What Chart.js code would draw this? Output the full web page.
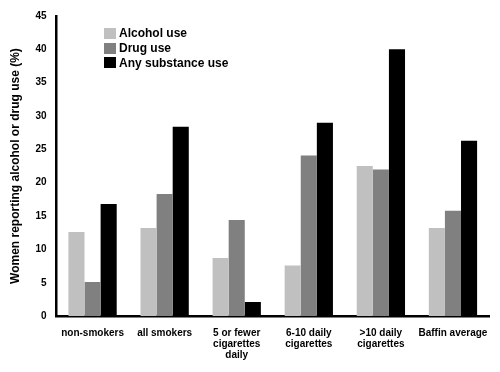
<!DOCTYPE html>
<html>
<head>
<meta charset="utf-8">
<script src="https://cdn.jsdelivr.net/npm/chart.js@4"></script>
<style>
    body { margin: 0; background: #fff; }
    #wrap { position: relative; width: 500px; height: 372px; }
    #legend { position: absolute; left: 104px; top: 26px; font: bold 12px "Liberation Sans", Arial, sans-serif; color: #000; }
    #legend div { display: flex; align-items: center; height: 14.8px; }
    #legend span { display: inline-block; width: 12px; height: 11px; margin-right: 3px; }
</style>
</head>
<body>
<div id="wrap">
    <canvas id="chartContainer" width="500" height="372"></canvas>
    <div id="legend"></div>
</div>
<script>
const categories = ['non-smokers', 'all smokers', ['5 or fewer', 'cigarettes', 'daily'], ['6-10 daily', 'cigarettes'], ['>10 daily', 'cigarettes'], 'Baffin average'];
const seriesNames = ['Alcohol use', 'Drug use', 'Any substance use'];
const alcoholUse = [12.6, 13.2, 8.7, 7.6, 22.5, 13.2];
const drugUse = [5.1, 18.3, 14.4, 24.1, 22.0, 15.8];
const anyUse = [16.8, 28.4, 2.1, 29.0, 40.0, 26.3];
const colors = ['#c0c0c0', '#808080', '#000000'];

function createChart() {
    var parrentNode = document.getElementById('chartContainer');
    var values = [alcoholUse, drugUse, anyUse];

    let datasets = [];
    for (let i in seriesNames) {
        datasets.push({
            label: seriesNames[i],
            data: values[i],
            backgroundColor: colors[i],
            borderWidth: 0,
            categoryPercentage: 0.67,
            barPercentage: 1.0
        });
    }

    // simple html legend, stacked like in the original figure
    var legend = document.getElementById('legend');
    for (let i in seriesNames) {
        var row = document.createElement('div');
        row.innerHTML = '<span style="background:' + colors[i] + '"></span>' + seriesNames[i];
        legend.appendChild(row);
    }

    new Chart(parrentNode, {
        type: 'bar',
        data: {
            labels: categories,
            datasets: datasets
        },
        options: {
            responsive: false,
            animation: false,
            layout: {
                padding: { top: 14, right: 11, bottom: 0, left: 8 }
            },
            scales: {
                x: {
                    grid: { display: false, drawTicks: false },
                    border: { color: '#000', width: 2.5 },
                    ticks: {
                        color: '#000',
                        maxRotation: 0,
                        autoSkip: false,
                        padding: 11,
                        font: { family: 'Liberation Sans', size: 10, weight: 'bold', lineHeight: 1.13 }
                    }
                },
                y: {
                    min: 0,
                    max: 45,
                    grid: { display: false, drawTicks: false },
                    border: { color: '#000', width: 2.5 },
                    ticks: {
                        stepSize: 5,
                        color: '#000',
                        padding: 10,
                        font: { family: 'Liberation Sans', size: 10, weight: 'bold' }
                    },
                    title: {
                        display: true,
                        text: 'Women reporting alcohol or drug use (%)',
                        color: '#000',
                        padding: { top: 0, bottom: 3 },
                        font: { family: 'Liberation Sans', size: 12, weight: 'bold' }
                    }
                }
            },
            plugins: {
                legend: { display: false },
                tooltip: { enabled: false }
            }
        }
    });
}

createChart();
</script>
</body>
</html>
